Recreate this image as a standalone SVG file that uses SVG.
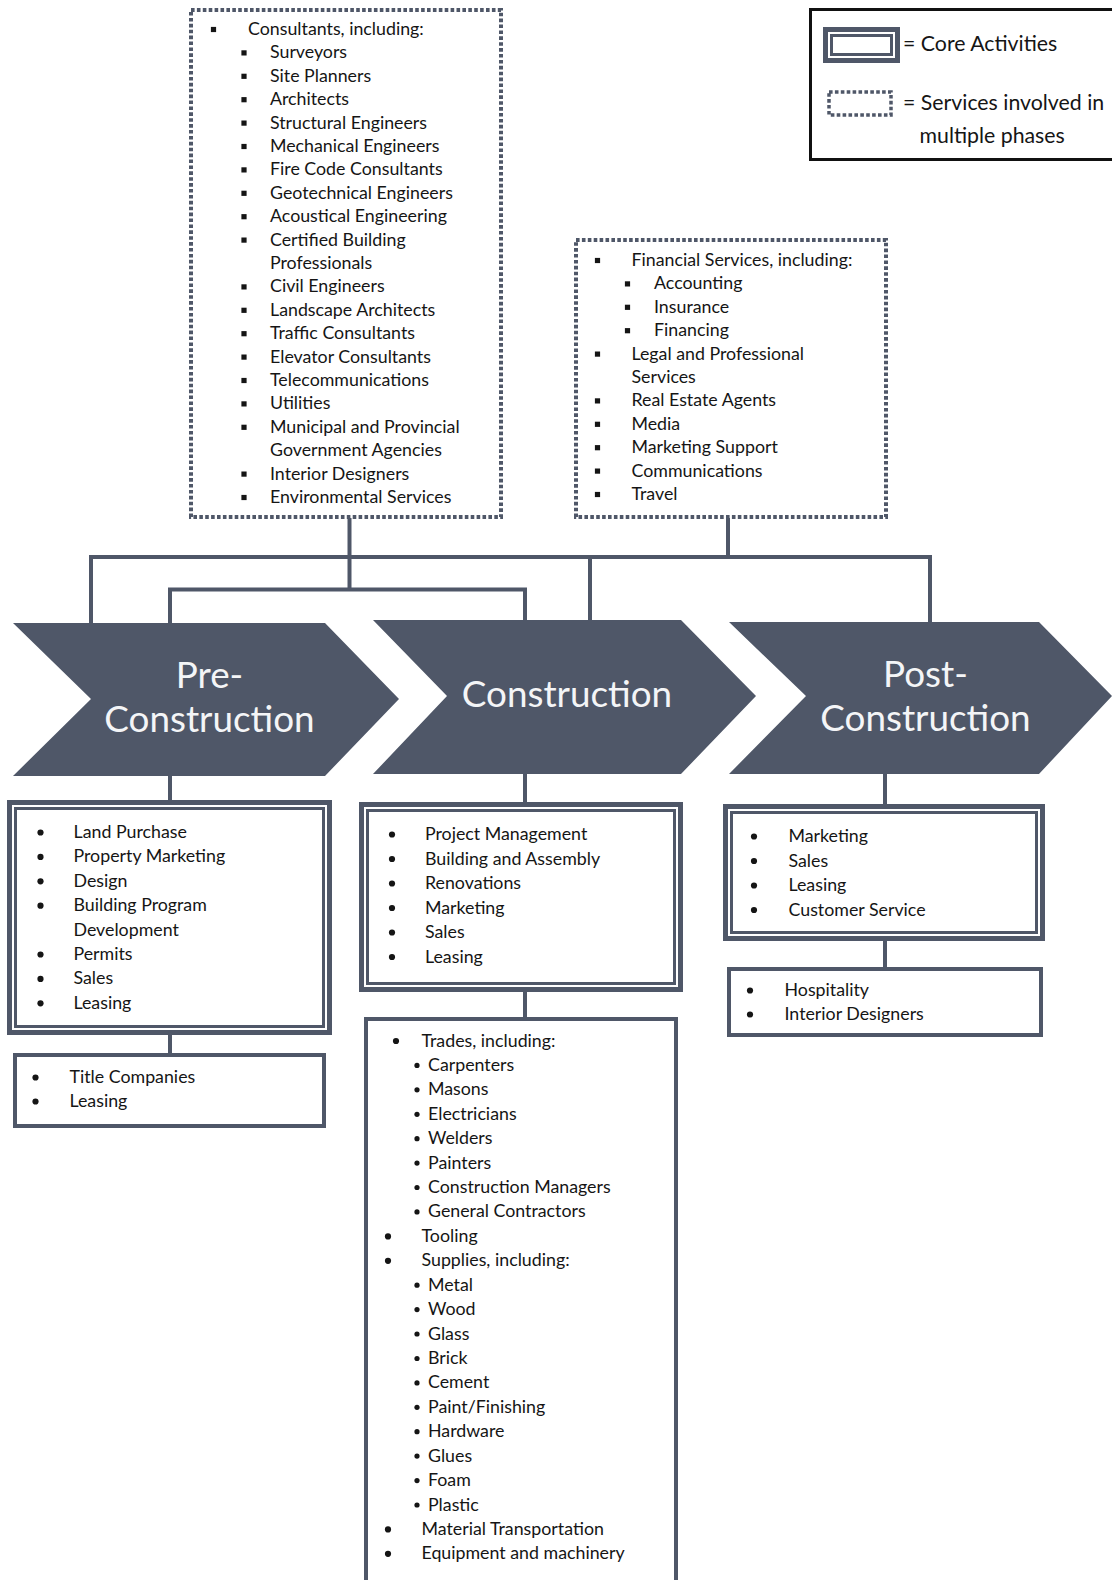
<svg xmlns="http://www.w3.org/2000/svg" width="1112" height="1580" viewBox="0 0 1112 1580">
  <defs>
    <style>
      .t { font-family: Lato, "Liberation Sans", sans-serif; font-size: 17.8px; fill: #151515; }
      .lg { font-family: Lato, "Liberation Sans", sans-serif; font-size: 21.3px; fill: #151515; }
      .ph { font-family: Lato, "Liberation Sans", sans-serif; font-size: 36.8px; fill: #f4f5f7; text-anchor: middle; }
      .wire { stroke: #4f5768; stroke-width: 4; fill: none; }
      .dots { fill: none; stroke: #4f5768; stroke-width: 4; stroke-dasharray: 3.6 2.3; }
      .chev { fill: #4f5768; }
      .core-o { fill: #ffffff; stroke: #4f5768; stroke-width: 5; }
      .core-i { fill: #ffffff; stroke: #4f5768; stroke-width: 3; }
      .sup { fill: #ffffff; stroke: #4f5768; stroke-width: 4; }
      .sq { fill: #151515; }
      .dot { fill: #151515; }
    </style>
    <rect id="sqb" x="-2.6" y="-2.6" width="5.2" height="5.2" class="sq"/>
    <circle id="rb" r="3.1" class="dot"/>
    <circle id="sb" r="2.6" class="dot"/>
  </defs>

  <rect width="1112" height="1580" fill="#ffffff"/>

  <!-- connectors -->
  <g id="connectors">
    <line class="wire" x1="349.5" y1="518" x2="349.5" y2="589.5"/>
    <line class="wire" x1="728" y1="518" x2="728" y2="557"/>
    <polyline class="wire" points="91,623 91,557 930,557 930,622"/>
    <line class="wire" x1="590" y1="557" x2="590" y2="620"/>
    <polyline class="wire" points="170,623 170,589.5 525,589.5 525,620"/>
    <line class="wire" x1="170" y1="776" x2="170" y2="800"/>
    <line class="wire" x1="525" y1="774" x2="525" y2="802"/>
    <line class="wire" x1="885" y1="774" x2="885" y2="804"/>
    <line class="wire" x1="170" y1="1035" x2="170" y2="1053"/>
    <line class="wire" x1="525" y1="992" x2="525" y2="1019"/>
    <line class="wire" x1="885" y1="941" x2="885" y2="969"/>
  </g>

  <!-- legend -->
  <g id="legend">
    <rect x="810.5" y="9.5" width="320" height="150" fill="#ffffff" stroke="#111111" stroke-width="3"/>
    <rect class="core-o" x="825.5" y="29.5" width="72" height="31"/>
    <rect class="core-i" x="831.5" y="35.5" width="60" height="19"/>
    <text class="lg" x="903" y="51">= Core Activities</text>
    <rect class="dots" x="829" y="92" width="62" height="23" style="stroke-width:3.5"/>
    <text class="lg" x="903" y="110">= Services involved in</text>
    <text class="lg" x="919.5" y="143">multiple phases</text>
  </g>

  <!-- consultants (multi-phase services) -->
  <g id="consultants">
    <rect class="dots" x="191" y="10" width="310" height="507"/>
    <use href="#sqb" x="213.5" y="29.5"/><text class="t" x="248" y="35">Consultants, including:</text>
    <use href="#sqb" x="244" y="52.9"/><text class="t" x="270" y="58.4">Surveyors</text>
    <use href="#sqb" x="244" y="76.3"/><text class="t" x="270" y="81.8">Site Planners</text>
    <use href="#sqb" x="244" y="99.7"/><text class="t" x="270" y="105.2">Architects</text>
    <use href="#sqb" x="244" y="123.1"/><text class="t" x="270" y="128.6">Structural Engineers</text>
    <use href="#sqb" x="244" y="146.5"/><text class="t" x="270" y="152">Mechanical Engineers</text>
    <use href="#sqb" x="244" y="169.9"/><text class="t" x="270" y="175.4">Fire Code Consultants</text>
    <use href="#sqb" x="244" y="193.3"/><text class="t" x="270" y="198.8">Geotechnical Engineers</text>
    <use href="#sqb" x="244" y="216.7"/><text class="t" x="270" y="222.2">Acoustical Engineering</text>
    <use href="#sqb" x="244" y="240.1"/><text class="t" x="270" y="245.6">Certified Building</text>
    <text class="t" x="270" y="269">Professionals</text>
    <use href="#sqb" x="244" y="286.9"/><text class="t" x="270" y="292.4">Civil Engineers</text>
    <use href="#sqb" x="244" y="310.3"/><text class="t" x="270" y="315.8">Landscape Architects</text>
    <use href="#sqb" x="244" y="333.7"/><text class="t" x="270" y="339.2">Traffic Consultants</text>
    <use href="#sqb" x="244" y="357.1"/><text class="t" x="270" y="362.6">Elevator Consultants</text>
    <use href="#sqb" x="244" y="380.5"/><text class="t" x="270" y="386">Telecommunications</text>
    <use href="#sqb" x="244" y="403.9"/><text class="t" x="270" y="409.4">Utilities</text>
    <use href="#sqb" x="244" y="427.3"/><text class="t" x="270" y="432.8">Municipal and Provincial</text>
    <text class="t" x="270" y="456.2">Government Agencies</text>
    <use href="#sqb" x="244" y="474.1"/><text class="t" x="270" y="479.6">Interior Designers</text>
    <use href="#sqb" x="244" y="497.5"/><text class="t" x="270" y="503">Environmental Services</text>
  </g>

  <!-- financial and other services -->
  <g id="financial">
    <rect class="dots" x="576" y="240" width="310" height="277"/>
    <use href="#sqb" x="597.5" y="260.5"/><text class="t" x="631.5" y="266">Financial Services, including:</text>
    <use href="#sqb" x="627.5" y="283.9"/><text class="t" x="654" y="289.4">Accounting</text>
    <use href="#sqb" x="627.5" y="307.3"/><text class="t" x="654" y="312.8">Insurance</text>
    <use href="#sqb" x="627.5" y="330.7"/><text class="t" x="654" y="336.2">Financing</text>
    <use href="#sqb" x="597.5" y="354.1"/><text class="t" x="631.5" y="359.6">Legal and Professional</text>
    <text class="t" x="631.5" y="383">Services</text>
    <use href="#sqb" x="597.5" y="400.9"/><text class="t" x="631.5" y="406.4">Real Estate Agents</text>
    <use href="#sqb" x="597.5" y="424.3"/><text class="t" x="631.5" y="429.8">Media</text>
    <use href="#sqb" x="597.5" y="447.7"/><text class="t" x="631.5" y="453.2">Marketing Support</text>
    <use href="#sqb" x="597.5" y="471.1"/><text class="t" x="631.5" y="476.6">Communications</text>
    <use href="#sqb" x="597.5" y="494.5"/><text class="t" x="631.5" y="500">Travel</text>
  </g>

  <!-- phase chevrons -->
  <g id="phase-pre">
    <polygon class="chev" points="13,623 325,623 399,699 325,776 13,776 91,699"/>
    <text class="ph" x="209.5" y="688">Pre-</text>
    <text class="ph" x="209.5" y="732">Construction</text>
  </g>
  <g id="phase-construction">
    <polygon class="chev" points="373,620 681,620 756,696 681,774 373,774 447,696"/>
    <text class="ph" x="567" y="707">Construction</text>
  </g>
  <g id="phase-post">
    <polygon class="chev" points="729,622 1039,622 1112,696 1039,774 729,774 806,696"/>
    <text class="ph" x="925.5" y="687">Post-</text>
    <text class="ph" x="925.5" y="731">Construction</text>
  </g>

  <!-- core activities -->
  <g id="core-pre">
    <rect class="core-o" x="9.5" y="802.5" width="320" height="230"/>
    <rect class="core-i" x="15.5" y="808.5" width="308" height="218"/>
    <use href="#rb" x="40.5" y="832.5"/><text class="t" x="73.5" y="838">Land Purchase</text>
    <use href="#rb" x="40.5" y="856.9"/><text class="t" x="73.5" y="862.4">Property Marketing</text>
    <use href="#rb" x="40.5" y="881.3"/><text class="t" x="73.5" y="886.8">Design</text>
    <use href="#rb" x="40.5" y="905.7"/><text class="t" x="73.5" y="911.2">Building Program</text>
    <text class="t" x="73.5" y="935.6">Development</text>
    <use href="#rb" x="40.5" y="954.5"/><text class="t" x="73.5" y="960">Permits</text>
    <use href="#rb" x="40.5" y="978.9"/><text class="t" x="73.5" y="984.4">Sales</text>
    <use href="#rb" x="40.5" y="1003.3"/><text class="t" x="73.5" y="1008.8">Leasing</text>
  </g>
  <g id="core-construction">
    <rect class="core-o" x="361.5" y="804.5" width="319" height="185"/>
    <rect class="core-i" x="367.5" y="810.5" width="307" height="173"/>
    <use href="#rb" x="392" y="834.5"/><text class="t" x="425" y="840">Project Management</text>
    <use href="#rb" x="392" y="859"/><text class="t" x="425" y="864.5">Building and Assembly</text>
    <use href="#rb" x="392" y="883.5"/><text class="t" x="425" y="889">Renovations</text>
    <use href="#rb" x="392" y="908"/><text class="t" x="425" y="913.5">Marketing</text>
    <use href="#rb" x="392" y="932.5"/><text class="t" x="425" y="938">Sales</text>
    <use href="#rb" x="392" y="957"/><text class="t" x="425" y="962.5">Leasing</text>
  </g>
  <g id="core-post">
    <rect class="core-o" x="725.5" y="806.5" width="317" height="132"/>
    <rect class="core-i" x="731.5" y="812.5" width="305" height="120"/>
    <use href="#rb" x="754" y="836.5"/><text class="t" x="788.5" y="842">Marketing</text>
    <use href="#rb" x="754" y="861"/><text class="t" x="788.5" y="866.5">Sales</text>
    <use href="#rb" x="754" y="885.5"/><text class="t" x="788.5" y="891">Leasing</text>
    <use href="#rb" x="754" y="910"/><text class="t" x="788.5" y="915.5">Customer Service</text>
  </g>

  <!-- supporting services -->
  <g id="support-pre">
    <rect class="sup" x="15" y="1055" width="309" height="71"/>
    <use href="#rb" x="35.5" y="1077.5"/><text class="t" x="69.5" y="1083">Title Companies</text>
    <use href="#rb" x="35.5" y="1101.5"/><text class="t" x="69.5" y="1107">Leasing</text>
  </g>
  <g id="support-post">
    <rect class="sup" x="729" y="969" width="312" height="66"/>
    <use href="#rb" x="750" y="990.5"/><text class="t" x="784.5" y="996">Hospitality</text>
    <use href="#rb" x="750" y="1014.5"/><text class="t" x="784.5" y="1020">Interior Designers</text>
  </g>
  <g id="support-construction">
    <rect class="sup" x="366" y="1019" width="310" height="600"/>
    <use href="#rb" x="396" y="1041"/><text class="t" x="421.5" y="1046.5">Trades, including:</text>
    <use href="#sb" x="417" y="1065.4"/><text class="t" x="428" y="1070.9">Carpenters</text>
    <use href="#sb" x="417" y="1089.8"/><text class="t" x="428" y="1095.3">Masons</text>
    <use href="#sb" x="417" y="1114.3"/><text class="t" x="428" y="1119.8">Electricians</text>
    <use href="#sb" x="417" y="1138.7"/><text class="t" x="428" y="1144.2">Welders</text>
    <use href="#sb" x="417" y="1163.1"/><text class="t" x="428" y="1168.6">Painters</text>
    <use href="#sb" x="417" y="1187.5"/><text class="t" x="428" y="1193">Construction Managers</text>
    <use href="#sb" x="417" y="1211.9"/><text class="t" x="428" y="1217.4">General Contractors</text>
    <use href="#rb" x="388" y="1236.4"/><text class="t" x="421.5" y="1241.9">Tooling</text>
    <use href="#rb" x="388" y="1260.8"/><text class="t" x="421.5" y="1266.3">Supplies, including:</text>
    <use href="#sb" x="417" y="1285.2"/><text class="t" x="428" y="1290.7">Metal</text>
    <use href="#sb" x="417" y="1309.6"/><text class="t" x="428" y="1315.1">Wood</text>
    <use href="#sb" x="417" y="1334"/><text class="t" x="428" y="1339.5">Glass</text>
    <use href="#sb" x="417" y="1358.5"/><text class="t" x="428" y="1364">Brick</text>
    <use href="#sb" x="417" y="1382.9"/><text class="t" x="428" y="1388.4">Cement</text>
    <use href="#sb" x="417" y="1407.3"/><text class="t" x="428" y="1412.8">Paint/Finishing</text>
    <use href="#sb" x="417" y="1431.7"/><text class="t" x="428" y="1437.2">Hardware</text>
    <use href="#sb" x="417" y="1456.1"/><text class="t" x="428" y="1461.6">Glues</text>
    <use href="#sb" x="417" y="1480.6"/><text class="t" x="428" y="1486.1">Foam</text>
    <use href="#sb" x="417" y="1505"/><text class="t" x="428" y="1510.5">Plastic</text>
    <use href="#rb" x="388" y="1529.4"/><text class="t" x="421.5" y="1534.9">Material Transportation</text>
    <use href="#rb" x="388" y="1553.8"/><text class="t" x="421.5" y="1559.3">Equipment and machinery</text>
  </g>
</svg>
